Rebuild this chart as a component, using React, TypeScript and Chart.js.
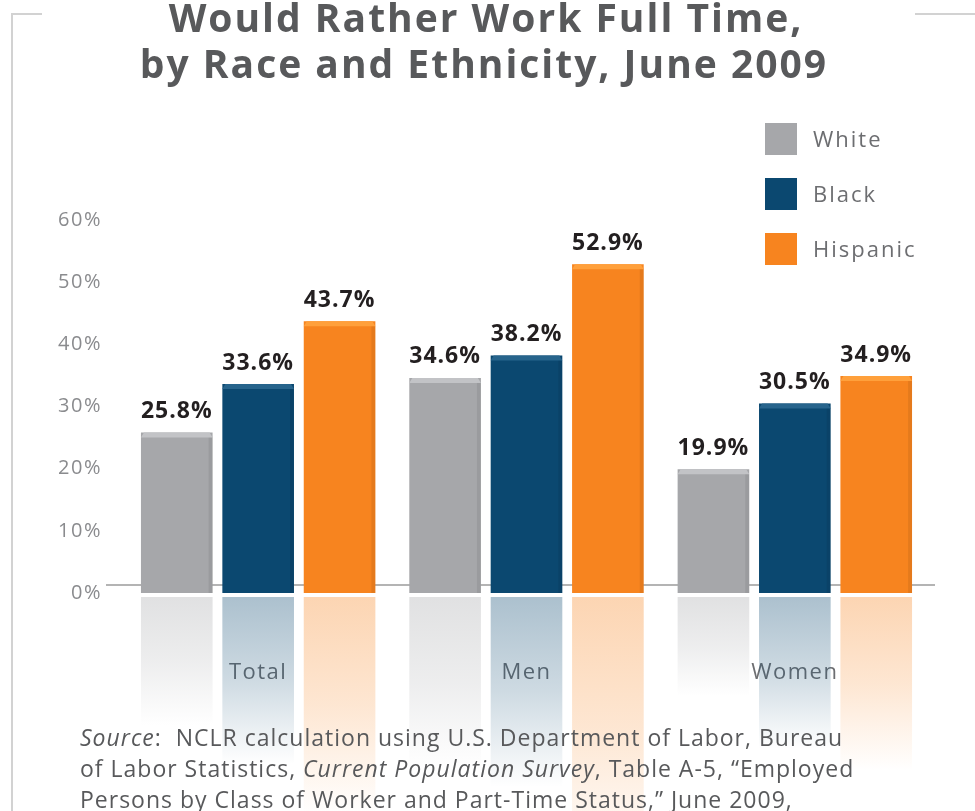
import React, { useEffect, useRef } from "react";
import { Chart, registerables } from "chart.js";

Chart.register(...registerables);

const categories = ["Total", "Men", "Women"];
const seriesNames = ["White", "Black", "Hispanic"];
const whiteValues = [25.8, 34.6, 19.9];
const blackValues = [33.6, 38.2, 30.5];
const hispanicValues = [43.7, 52.9, 34.9];
const seriesColors = ["#a6a7aa", "#0b4870", "#f7841f"];
const seriesRGB = [
  [166, 167, 170],
  [11, 72, 112],
  [247, 132, 31],
];
const yMax = 60;
const yStep = 10;
const titleLines = ["Would Rather Work Full Time,", "by Race and Ethnicity, June 2009"];
const sourceLines: { t: string; i: boolean }[][] = [
  [
    { t: "Source", i: true },
    { t: ":  NCLR calculation using U.S. Department of Labor, Bureau", i: false },
  ],
  [
    { t: "of Labor Statistics, ", i: false },
    { t: "Current Population Survey", i: true },
    { t: ", Table A-5, \u201cEmployed", i: false },
  ],
  [{ t: "Persons by Class of Worker and Part-Time Status,\u201d June 2009,", i: false }],
];

const FONT = "'Open Sans', Lato, sans-serif";

const decorPlugin = {
  id: "decor",
  beforeDraw(chart: any) {
    const ctx = chart.ctx;
    ctx.letterSpacing = "1.5px";
    ctx.save();
    ctx.fillStyle = "#ffffff";
    ctx.fillRect(0, 0, chart.width, chart.height);
    // frame
    ctx.strokeStyle = "#d2d2d2";
    ctx.lineWidth = 2;
    ctx.beginPath();
    ctx.moveTo(42, 14);
    ctx.lineTo(12, 14);
    ctx.lineTo(12, chart.height);
    ctx.moveTo(915, 14);
    ctx.lineTo(chart.width, 14);
    ctx.stroke();
    // title
    ctx.fillStyle = "#58595b";
    ctx.font = `bold 39px ${FONT}`;
    ctx.letterSpacing = "2px";
    ctx.textAlign = "center";
    ctx.textBaseline = "alphabetic";
    ctx.fillText(titleLines[0], 486, 32);
    ctx.fillText(titleLines[1], 484, 78);
    ctx.restore();
  },
  beforeDatasetsDraw(chart: any) {
    const ctx = chart.ctx;
    const area = chart.chartArea;
    ctx.save();
    // baseline
    ctx.strokeStyle = "#b4b4b4";
    ctx.lineWidth = 2;
    ctx.beginPath();
    ctx.moveTo(area.left - 18, area.bottom - 8);
    ctx.lineTo(area.right + 6, area.bottom - 8);
    ctx.stroke();
    // reflections
    chart.data.datasets.forEach((ds: any, di: number) => {
      const meta = chart.getDatasetMeta(di);
      const [r, g, b] = seriesRGB[di];
      meta.data.forEach((bar: any) => {
        const p = bar.getProps(["x", "y", "base", "width"], true);
        const h = (p.base - p.y) * 0.8;
        const top = p.base + 4;
        const grad = ctx.createLinearGradient(0, top, 0, top + h);
        grad.addColorStop(0, `rgba(${r},${g},${b},0.34)`);
        grad.addColorStop(0.5, `rgba(${r},${g},${b},0.2)`);
        grad.addColorStop(1, `rgba(${r},${g},${b},0)`);
        ctx.fillStyle = grad;
        ctx.fillRect(p.x - p.width / 2, top, p.width, h);
      });
    });
    ctx.restore();
  },
  afterDatasetsDraw(chart: any) {
    const ctx = chart.ctx;
    ctx.save();
    chart.data.datasets.forEach((ds: any, di: number) => {
      const meta = chart.getDatasetMeta(di);
      const [r, g, b] = seriesRGB[di];
      meta.data.forEach((bar: any, i: number) => {
        const p = bar.getProps(["x", "y", "base", "width"], true);
        const left = p.x - p.width / 2;
        const right = p.x + p.width / 2;
        // top bevel
        ctx.fillStyle = `rgb(${Math.min(255, r + 28)},${Math.min(255, g + 28)},${Math.min(255, b + 28)})`;
        ctx.beginPath();
        ctx.moveTo(left, p.y + 5);
        ctx.lineTo(left + 3, p.y);
        ctx.lineTo(right - 3, p.y);
        ctx.lineTo(right, p.y + 5);
        ctx.closePath();
        ctx.fill();
        // right edge
        ctx.fillStyle = `rgba(0,0,0,0.07)`;
        ctx.fillRect(right - 4, p.y + 5, 4, p.base - p.y - 5);
        // value label
        const v = ds.data[i];
        ctx.fillStyle = "#231f20";
        ctx.font = `bold 23px ${FONT}`;
        ctx.letterSpacing = "1px";
        ctx.textAlign = "center";
        ctx.textBaseline = "middle";
        ctx.fillText(`${v.toFixed(1)}%`, p.x, p.y - 21);
      });
    });
    ctx.restore();
  },
  afterDraw(chart: any) {
    const ctx = chart.ctx;
    ctx.save();
    // legend
    chart.data.datasets.forEach((ds: any, di: number) => {
      const y = 123 + di * 55;
      ctx.fillStyle = ds.backgroundColor;
      ctx.fillRect(765, y, 32, 32);
      ctx.fillStyle = "#6d6e71";
      ctx.font = `22px ${FONT}`;
      ctx.letterSpacing = "2px";
      ctx.textAlign = "left";
      ctx.textBaseline = "middle";
      ctx.fillText(ds.label, 813, y + 18);
    });
    // source
    ctx.fillStyle = "#58595b";
    ctx.textBaseline = "middle";
    ctx.textAlign = "left";
    ctx.letterSpacing = "1px";
    sourceLines.forEach((line, li) => {
      let x = 80;
      const y = 739 + li * 31;
      line.forEach((seg) => {
        ctx.font = `${seg.i ? "italic " : ""}23px ${FONT}`;
        ctx.fillText(seg.t, x, y);
        x += ctx.measureText(seg.t).width;
      });
    });
    ctx.restore();
  },
};

export default function App() {
  const canvasRef = useRef<HTMLCanvasElement | null>(null);

  useEffect(() => {
    if (!canvasRef.current) return;
    const values = [whiteValues, blackValues, hispanicValues];
    const chart = new Chart(canvasRef.current, {
      type: "bar",
      data: {
        labels: categories,
        datasets: seriesNames.map((name, i) => ({
          label: name,
          data: values[i],
          backgroundColor: seriesColors[i],
          borderWidth: 0,
          categoryPercentage: 0.91,
          barPercentage: 0.88,
        })),
      },
      options: {
        animation: false,
        responsive: true,
        maintainAspectRatio: false,
        layout: { padding: { left: 50, right: 46, top: 220, bottom: 118 } },
        plugins: {
          legend: { display: false },
          tooltip: { enabled: false },
          title: { display: false },
        },
        scales: {
          x: {
            z: 1,
            grid: { display: false, drawTicks: false },
            border: { display: false },
            ticks: {
              padding: 67,
              color: "#6d6e71",
              font: { family: FONT, size: 22 },
            },
            afterFit: (scale: any) => {
              scale.height = 100;
            },
          },
          y: {
            min: 0,
            max: yMax,
            grid: { display: false, drawTicks: false },
            border: { display: false },
            ticks: {
              stepSize: yStep,
              padding: 22,
              color: "#8a8b8e",
              font: { family: FONT, size: 20 },
              callback: (v: any) => `${v}%`,
            },
            afterFit: (scale: any) => {
              scale.width = 74;
            },
          },
        },
      },
      plugins: [decorPlugin],
    });
    return () => chart.destroy();
  }, []);

  return (
    <div style={{ position: "absolute", left: 0, top: 0, width: 975, height: 811 }}>
      <canvas ref={canvasRef} />
    </div>
  );
}
